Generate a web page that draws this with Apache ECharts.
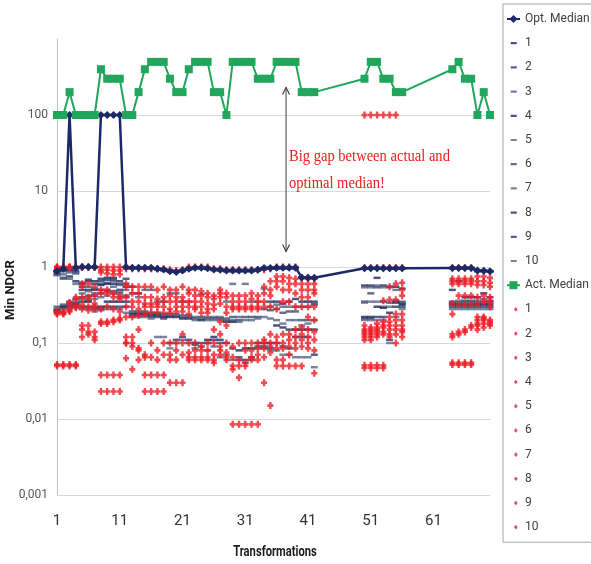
<!DOCTYPE html>
<html>
<head>
<meta charset="utf-8">
<script src="https://cdn.jsdelivr.net/npm/echarts@6/dist/echarts.min.js"></script>
<style>
  html, body { margin: 0; padding: 0; background: #ffffff; }
  #chart { width: 591px; height: 564px; }
</style>
</head>
<body>
<div id="chart"></div>
<script>
const _ = null;

// Transformation numbers (x axis)
const categories = ['1','2','3','4','5','6','7','8','9','10',
  '11','12','13','14','15','16','17','18','19','20',
  '21','22','23','24','25','26','27','28','29','30',
  '31','32','33','34','35','36','37','38','39','40',
  '41','42','43','44','45','46','47','48','49','50',
  '51','52','53','54','55','56','57','58','59','60',
  '61','62','63','64','65','66','67','68','69','70'];

// Median of the optimal runs
const optMedian = [0.88,0.95,100,0.98,1.0,1.0,1.0,100,100,100,
  100,1.0,0.98,0.98,0.98,0.98,0.95,0.93,0.88,0.86,
  0.9,0.95,0.98,0.98,0.96,0.93,0.92,0.9,0.9,0.9,
  0.9,0.9,0.92,0.97,0.97,0.98,0.98,0.98,0.98,0.73,
  0.72,0.72,_,_,_,_,_,_,_,0.96,
  0.96,0.96,0.96,0.96,0.96,0.96,_,_,_,_,
  _,_,_,0.97,0.97,0.97,0.97,0.9,0.89,0.88];

// Optimal runs 1..10
const opt1 = [0.9,0.92,0.92,0.9,0.62,0.68,0.65,0.7,0.72,0.72,
  0.65,0.98,0.97,0.97,0.97,0.97,0.95,0.93,0.9,0.88,
  0.9,0.95,0.98,0.98,0.96,0.93,0.92,0.9,0.9,0.9,
  0.9,0.9,0.92,0.97,0.97,0.97,0.97,0.97,0.97,0.73,
  0.72,0.72,_,_,_,_,_,_,_,0.96,
  0.96,0.96,0.96,0.96,0.96,0.96,_,_,_,_,
  _,_,_,0.97,0.97,0.97,0.97,0.89,0.89,0.88];
const opt2 = [0.88,0.88,0.9,0.85,0.6,0.65,0.6,0.65,0.68,0.68,
  0.6,0.7,0.97,0.97,0.97,0.97,0.95,0.93,0.9,0.88,
  0.9,0.95,0.98,0.98,0.96,0.93,0.92,0.9,0.9,0.9,
  0.9,0.9,0.92,0.97,0.97,0.97,0.97,0.97,0.97,0.73,
  0.72,0.72,_,_,_,_,_,_,_,0.96,
  0.96,0.96,0.96,0.96,0.96,0.96,_,_,_,_,
  _,_,_,0.97,0.97,0.97,0.97,0.89,0.89,0.88];
const opt3 = [0.85,0.8,0.85,0.82,0.55,0.55,0.52,0.6,0.62,0.65,
  0.58,0.6,0.96,0.96,0.96,0.96,0.94,0.92,0.88,0.87,
  0.89,0.94,0.97,0.97,0.95,0.92,0.91,0.89,0.89,0.89,
  0.89,0.89,0.91,0.96,0.96,0.96,0.96,0.96,0.96,0.72,
  0.71,0.71,_,_,_,_,_,_,_,0.95,
  0.95,0.95,0.95,0.95,0.95,0.95,_,_,_,_,
  _,_,_,0.96,0.96,0.96,0.96,0.88,0.88,0.87];
const opt4 = [0.8,0.72,0.75,0.65,0.5,0.5,0.5,0.58,0.6,0.6,
  0.5,0.55,0.55,0.45,0.95,0.95,0.93,0.9,0.87,0.86,
  0.88,0.93,0.96,0.96,0.94,0.91,0.9,0.88,0.88,0.88,
  0.88,0.88,0.9,0.95,0.35,0.35,0.33,0.35,0.38,0.35,
  0.35,0.35,_,_,_,_,_,_,_,0.57,
  0.57,0.72,0.57,0.55,0.55,0.52,_,_,_,_,
  _,_,_,0.5,0.65,0.4,0.4,0.4,0.45,0.4];
const opt5 = [0.78,0.7,0.7,0.6,0.45,0.48,0.45,0.5,0.5,0.55,
  0.48,0.5,0.45,0.4,0.5,0.5,0.35,0.35,0.45,0.45,
  0.35,0.35,0.22,0.44,0.22,0.22,0.22,0.35,0.6,0.22,
  0.6,0.35,0.35,0.52,0.3,0.32,0.3,0.3,0.3,0.3,
  0.3,0.33,_,_,_,_,_,_,_,0.54,
  0.54,0.57,0.54,0.54,0.5,0.35,_,_,_,_,
  _,_,_,0.35,0.36,0.36,0.36,0.36,0.38,0.36];
const opt6 = [0.3,0.32,0.35,0.38,0.4,0.42,0.42,0.45,0.48,0.48,
  0.45,0.42,0.26,0.26,0.26,0.25,0.25,0.24,0.24,0.24,
  0.23,0.23,0.21,0.22,0.21,0.21,0.21,0.21,0.22,0.2,
  0.22,0.22,0.22,0.28,0.27,0.28,0.25,0.26,0.26,0.2,
  0.2,0.32,_,_,_,_,_,_,_,0.35,
  0.45,0.54,0.35,0.34,0.36,0.34,_,_,_,_,
  _,_,_,0.34,0.34,0.35,0.35,0.34,0.35,0.35];
const opt7 = [0.28,0.3,0.32,0.35,0.38,0.36,0.38,0.4,0.42,0.45,
  0.4,0.4,0.25,0.25,0.25,0.24,0.24,0.23,0.23,0.23,
  0.22,0.22,0.2,0.21,0.2,0.2,0.2,0.2,0.2,0.19,
  0.2,0.2,0.21,0.22,0.21,0.2,0.18,0.2,0.2,0.17,
  0.18,0.2,_,_,_,_,_,_,_,0.34,
  0.35,0.35,0.3,0.3,0.35,0.33,_,_,_,_,
  _,_,_,0.33,0.33,0.33,0.33,0.33,0.33,0.34];
const opt8 = [0.27,0.3,0.3,0.33,0.35,0.35,0.3,0.3,0.35,0.35,
  0.35,0.35,0.24,0.24,0.24,0.23,0.23,0.22,0.22,0.22,
  0.21,0.21,0.1,0.2,0.11,0.12,0.11,0.19,0.19,0.08,
  0.085,0.085,0.1,0.1,0.1,0.17,0.16,0.15,0.15,0.15,
  0.15,0.15,_,_,_,_,_,_,_,0.22,
  0.22,0.3,0.29,0.25,0.34,0.32,_,_,_,_,
  _,_,_,0.32,0.32,0.32,0.32,0.32,0.32,0.32];
const opt9 = [0.26,0.29,0.3,0.32,0.3,0.3,0.28,0.28,0.3,0.3,
  0.3,0.3,0.23,0.23,0.23,0.22,0.22,0.21,0.1,0.11,
  0.12,0.11,0.095,0.1,0.1,0.11,0.1,0.1,0.085,0.065,
  0.06,0.065,0.09,0.09,0.085,0.1,0.09,0.085,0.12,0.12,
  0.12,0.07,_,_,_,_,_,_,_,0.21,
  0.21,0.22,0.22,0.11,0.3,0.3,_,_,_,_,
  _,_,_,0.3,0.3,0.3,0.3,0.3,0.3,0.3];
const opt10 = [0.25,0.28,0.29,0.3,0.28,0.28,0.26,0.27,0.28,0.28,
  0.28,0.25,0.22,0.22,0.22,0.21,0.12,0.12,0.085,0.1,
  0.11,0.1,0.085,0.09,0.08,0.09,0.065,0.07,0.06,0.06,
  0.055,0.06,0.085,0.085,0.08,0.08,0.07,0.07,0.065,0.065,
  0.065,0.048,_,_,_,_,_,_,_,0.2,
  0.2,0.2,0.2,0.1,0.22,0.28,_,_,_,_,
  _,_,_,0.28,0.28,0.28,0.28,0.28,0.28,0.28];

// Median of the actual runs
const actMedian = [100,100,200,100,100,100,100,400,300,300,
  300,100,100,200,400,500,500,500,300,200,
  200,400,500,500,500,200,200,100,500,500,
  500,500,300,300,300,500,500,500,500,200,
  200,200,_,_,_,_,_,_,_,300,
  500,500,300,300,200,200,_,_,_,_,
  _,_,_,400,500,300,300,100,200,100];

// Actual runs 1..10
const act1 = [1.0,1.0,1.0,1.0,1.0,1.0,1.0,1.0,1.0,1.0,
  1.0,0.95,0.95,0.95,0.95,0.95,0.95,0.95,0.92,0.9,
  0.92,1.0,1.0,1.0,1.0,0.95,0.95,0.92,0.92,0.92,
  0.92,0.92,0.92,0.92,0.95,1.0,1.0,1.0,1.0,0.72,
  0.72,0.7,_,_,_,_,_,_,_,100,
  100,100,100,100,100,0.98,_,_,_,_,
  _,_,_,0.97,0.97,0.97,0.97,0.75,0.75,0.72];
const act2 = [1.0,1.0,1.0,1.0,0.99,0.99,0.99,0.92,0.92,0.9,
  0.9,0.6,0.55,0.55,0.55,0.55,0.5,0.55,0.5,0.5,
  0.55,0.5,0.5,0.48,0.45,0.42,0.5,0.45,0.42,0.42,
  0.42,0.45,0.42,0.55,0.65,0.75,0.75,0.72,0.7,0.6,
  0.6,0.6,_,_,_,_,_,_,_,0.98,
  0.98,0.98,0.98,0.98,0.98,0.62,_,_,_,_,
  _,_,_,0.7,0.7,0.7,0.7,0.65,0.65,0.62];
const act3 = [0.98,0.98,0.98,0.98,0.6,0.6,0.55,0.85,0.82,0.8,
  0.8,0.55,0.45,0.45,0.4,0.4,0.38,0.4,0.42,0.4,
  0.4,0.45,0.42,0.42,0.4,0.38,0.45,0.4,0.35,0.35,
  0.35,0.38,0.35,0.45,0.5,0.65,0.65,0.6,0.6,0.5,
  0.5,0.5,_,_,_,_,_,_,_,0.17,
  0.16,0.18,0.36,0.55,0.6,0.5,_,_,_,_,
  _,_,_,0.65,0.65,0.65,0.65,0.58,0.58,0.55];
const act4 = [0.95,0.96,0.34,0.4,0.55,0.4,0.42,0.5,0.5,0.45,
  0.42,0.4,0.35,0.35,0.33,0.33,0.33,0.35,0.35,0.35,
  0.35,0.35,0.35,0.35,0.33,0.32,0.4,0.3,0.3,0.3,
  0.3,0.3,0.3,0.35,0.42,0.55,0.5,0.5,0.45,0.4,
  0.4,0.45,_,_,_,_,_,_,_,0.15,
  0.15,0.16,0.19,0.37,0.37,0.42,_,_,_,_,
  _,_,_,0.6,0.6,0.6,0.6,0.4,0.42,0.4];
const act5 = [0.26,0.26,0.33,0.38,0.4,0.38,0.33,0.45,0.45,0.4,
  0.38,0.3,0.3,0.28,0.3,0.3,0.3,0.3,0.28,0.3,
  0.3,0.3,0.3,0.3,0.28,0.28,0.33,0.25,0.28,0.28,
  0.28,0.28,0.28,0.3,0.3,0.28,0.35,0.35,0.3,0.3,
  0.3,0.3,_,_,_,_,_,_,_,0.14,
  0.14,0.15,0.17,0.22,0.24,0.24,_,_,_,_,
  _,_,_,0.33,0.42,0.42,0.42,0.32,0.35,0.35];
const act6 = [0.25,0.25,0.28,0.31,0.32,0.3,0.3,0.28,0.3,0.28,
  0.26,0.22,0.22,0.23,0.24,0.25,0.25,0.25,0.25,0.26,
  0.26,0.24,0.28,0.25,0.25,0.15,0.19,0.17,0.09,0.1,
  0.1,0.1,0.1,0.11,0.13,0.12,0.13,0.13,0.15,0.16,
  0.22,0.2,_,_,_,_,_,_,_,0.13,
  0.13,0.14,0.16,0.19,0.2,0.2,_,_,_,_,
  _,_,_,0.24,0.32,0.32,0.32,0.22,0.22,0.3];
const act7 = [0.25,0.25,0.27,0.3,0.28,0.27,0.28,0.19,0.19,0.2,
  0.21,0.12,0.12,0.15,0.07,0.1,0.08,0.1,0.1,0.1,
  0.13,0.1,0.1,0.09,0.1,0.1,0.13,0.1,0.065,0.06,
  0.08,0.08,0.085,0.1,0.1,0.1,0.1,0.11,0.12,0.13,
  0.15,0.14,_,_,_,_,_,_,_,0.12,
  0.12,0.13,0.14,0.17,0.17,0.17,_,_,_,_,
  _,_,_,0.13,0.14,0.15,0.17,0.2,0.21,0.2];
const act8 = [0.24,0.24,0.26,0.29,0.17,0.17,0.14,0.18,0.18,0.19,
  0.2,0.1,0.1,0.085,0.065,0.065,0.06,0.07,0.07,0.08,
  0.1,0.075,0.08,0.08,0.08,0.07,0.09,0.075,0.05,0.05,
  0.055,0.065,0.07,0.085,0.09,0.085,0.085,0.09,0.1,0.11,
  0.12,0.11,_,_,_,_,_,_,_,0.11,
  0.11,0.12,0.13,0.15,0.15,0.15,_,_,_,_,
  _,_,_,0.12,0.13,0.14,0.16,0.18,0.2,0.19];
const act9 = [0.052,0.052,0.052,0.052,0.15,0.14,0.12,0.038,0.038,0.038,
  0.038,0.1,0.09,0.08,0.038,0.038,0.038,0.038,0.06,0.06,
  0.07,0.065,0.065,0.065,0.065,0.06,0.08,0.065,0.045,0.035,
  0.05,0.06,0.06,0.065,0.075,0.06,0.06,0.07,0.085,0.09,
  0.1,0.08,_,_,_,_,_,_,_,0.051,
  0.051,0.051,0.051,0.13,0.13,0.14,_,_,_,_,
  _,_,_,0.055,0.055,0.055,0.055,0.17,0.18,0.18];
const act10 = [0.05,0.05,0.05,0.05,0.12,0.13,0.11,0.023,0.023,0.023,
  0.023,0.063,0.045,0.06,0.023,0.023,0.023,0.023,0.03,0.03,
  0.03,0.06,0.06,0.06,0.06,0.055,0.07,0.06,0.0085,0.0085,
  0.0085,0.0085,0.0085,0.03,0.015,0.05,0.05,0.05,0.05,0.05,
  0.085,0.04,_,_,_,_,_,_,_,0.047,
  0.047,0.047,0.047,0.12,0.1,0.12,_,_,_,_,
  _,_,_,0.052,0.052,0.052,0.052,0.15,0.16,0.17];

const optRuns = [opt1, opt2, opt3, opt4, opt5, opt6, opt7, opt8, opt9, opt10];
const actRuns = [act1, act2, act3, act4, act5, act6, act7, act8, act9, act10];
const runLabels = ['1','2','3','4','5','6','7','8','9','10'];
const yTicks = [0.001, 0.01, 0.1, 1, 10, 100];

const NAVY = '#1b2966';
const GREEN = '#21a65b';
const RED = '#ec1c24';
const dashColors = ['#1f2b5e','#243a73','#4a5a80','#1f2b5e','#52617f',
                    '#3d4b6e','#566483','#1c2855','#2a3c72','#5b6785'];
const SANS = "Roboto, 'Liberation Sans', sans-serif";

// small red cross used for the actual runs
const crossPath = 'path://M1.8,0H4.2V2.2H6V4.8H4.2V7H1.8V4.8H0V2.2H1.8Z';
// legend icons padded into a 14x10 box so they stay small
const dashIcon = 'path://M0,0L0,0.01M14,10L14,10.01M4,3.8H10.5V6.2H4Z';
const dotIcon = 'path://M0,0L0,0.01M14,10L14,10.01M9.5,2.5L11.5,5L9.5,7.5L7.5,5Z';

const series = [];
const legendData = [];

series.push({
  name: 'Opt. Median', type: 'line', data: optMedian, connectNulls: true,
  symbol: 'diamond', symbolSize: 8, showAllSymbol: true,
  lineStyle: { color: NAVY, width: 2.5 }, itemStyle: { color: NAVY }
});
legendData.push({ name: 'Opt. Median' });

optRuns.forEach((d, k) => {
  const name = 'opt-' + runLabels[k];
  series.push({
    name, type: 'scatter', data: d, symbol: 'rect', symbolSize: [7, 2.5],
    itemStyle: { color: dashColors[k] }
  });
  legendData.push({ name, icon: dashIcon });
});

series.push({
  name: 'Act. Median', type: 'line', data: actMedian, connectNulls: true,
  symbol: 'rect', symbolSize: 8, showAllSymbol: true,
  lineStyle: { color: GREEN, width: 2 }, itemStyle: { color: GREEN }
});
legendData.push({ name: 'Act. Median' });

actRuns.forEach((d, k) => {
  const name = 'act-' + runLabels[k];
  series.push({
    name, type: 'scatter', data: d, symbol: crossPath, symbolSize: [6, 7],
    itemStyle: { color: RED }
  });
  legendData.push({ name, icon: dotIcon });
});

series.forEach(s => { s.silent = true; s.emphasis = { disabled: true }; });

function tickText(v) {
  const p = Math.round(Math.log10(v));
  if (p >= 0) return String(Math.pow(10, p));
  return '0,' + '0'.repeat(-p - 1) + '1';
}

const option = {
  animation: false,
  backgroundColor: '#ffffff',
  grid: { left: 57, right: 101, top: 39, bottom: 69 },
  xAxis: {
    type: 'category', data: categories, boundaryGap: false,
    axisLine: { show: true, lineStyle: { color: '#d9d9d9' } },
    axisTick: { show: false },
    axisLabel: { interval: 9, margin: 19, fontSize: 15, color: '#333333', fontFamily: SANS },
    splitLine: { show: false }
  },
  yAxis: {
    type: 'log', logBase: 10, min: 0.001, max: 1000,
    axisLine: { show: true, lineStyle: { color: '#bfbfbf' } },
    axisTick: { show: false },
    splitLine: { show: true, showMaxLine: false, lineStyle: { color: '#d9d9d9', width: 1 } },
    axisLabel: {
      showMaxLabel: false, margin: 9, fontSize: 12, color: '#555555', fontFamily: SANS,
      formatter: v => (yTicks.some(t => Math.abs(Math.log10(t) - Math.log10(v)) < 1e-6) ? tickText(v) : '')
    }
  },
  legend: {
    orient: 'vertical', left: 503, top: 4,
    padding: [8, 2, 8, 3],
    itemWidth: 13, itemHeight: 10, itemGap: 10.2,
    borderColor: '#a6a6a6', borderWidth: 1,
    data: legendData,
    selectedMode: false,
    formatter: n => (n.indexOf('-') >= 0 ? n.split('-')[1] : n),
    textStyle: { fontSize: 12, lineHeight: 14, color: '#404040', fontFamily: SANS }
  },
  series
};

const chart = echarts.init(document.getElementById('chart'), null, { renderer: 'canvas' });
chart.setOption(option);

// arrow between the two medians, placed between transformations 37 and 38
const pA = chart.convertToPixel({ gridIndex: 0 }, ['37', 230]);
const pB = chart.convertToPixel({ gridIndex: 0 }, ['38', 1.6]);
const ax = (pA[0] + pB[0]) / 2;
const yTop = pA[1], yBot = pB[1];

chart.setOption({
  graphic: [
    { type: 'line', silent: true, shape: { x1: ax, y1: yTop, x2: ax, y2: yBot },
      style: { stroke: '#404040', lineWidth: 1 } },
    { type: 'polyline', silent: true, shape: { points: [[ax - 3.5, yTop + 7], [ax, yTop], [ax + 3.5, yTop + 7]] },
      style: { stroke: '#404040', lineWidth: 1.2, fill: null } },
    { type: 'polyline', silent: true, shape: { points: [[ax - 3.5, yBot - 7], [ax, yBot], [ax + 3.5, yBot - 7]] },
      style: { stroke: '#404040', lineWidth: 1.2, fill: null } },
    { type: 'text', silent: true, x: 289, y: 143, scaleX: 0.91,
      style: { text: 'Big gap between actual and\noptimal median!', fill: '#e8201e',
               font: "16px 'Liberation Serif', 'DejaVu Serif', serif", lineHeight: 27 } },
    { type: 'text', silent: true, x: 275, y: 552, scaleX: 0.8,
      style: { text: 'Transformations', fill: '#1a1a1a', align: 'center', verticalAlign: 'middle',
               font: "bold 14px " + SANS } },
    { type: 'text', silent: true, x: 11, y: 290, rotation: Math.PI / 2,
      style: { text: 'Min NDCR', fill: '#1a1a1a', align: 'center', verticalAlign: 'middle',
               font: "bold 13px " + SANS } }
  ]
});
</script>
</body>
</html>
